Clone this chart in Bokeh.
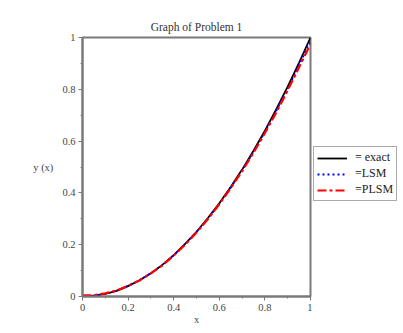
from bokeh.plotting import figure
from bokeh.layouts import row
from bokeh.models import Range1d, FixedTicker, Legend, LegendItem
from bokeh.embed import file_html
from bokeh.resources import INLINE

title_text = "Graph of Problem 1"
x_vals = [0, 0.05, 0.1, 0.15, 0.2, 0.25, 0.3, 0.35, 0.4, 0.45, 0.5,
          0.55, 0.6, 0.65, 0.7, 0.75, 0.8, 0.85, 0.9, 0.95, 1.0]
exact = [0.002, 0.003, 0.01, 0.022, 0.04, 0.063, 0.09, 0.122, 0.16, 0.203, 0.25,
         0.303, 0.36, 0.423, 0.49, 0.563, 0.64, 0.723, 0.81, 0.903, 1.0]
lsm = [0.002, 0.004, 0.011, 0.023, 0.041, 0.063, 0.09, 0.121, 0.159, 0.202, 0.249,
       0.301, 0.358, 0.42, 0.486, 0.558, 0.635, 0.717, 0.803, 0.894, 0.987]
plsm = [0.004, 0.005, 0.012, 0.023, 0.041, 0.062, 0.089, 0.12, 0.158, 0.2, 0.247,
        0.299, 0.356, 0.418, 0.484, 0.555, 0.631, 0.711, 0.796, 0.885, 0.975]
major_ticks = [0, 0.2, 0.4, 0.6, 0.8, 1]
minor_ticks = [0.1, 0.3, 0.5, 0.7, 0.9]
tick_labels = ["0", "0.2", "0.4", "0.6", "0.8", "1"]
legend_labels = ["= exact", "=LSM", "=PLSM"]

FONT = "Liberation Serif"
GRAY = "#7a7a7a"
TXT = "#444444"

STYLES = [dict(line_color="black", line_width=1.8),
          dict(line_color="blue", line_width=1.8, line_dash="2 3"),
          dict(line_color="red", line_width=2.2, line_dash="9 3 3 3")]

p = figure(width=312, height=333, output_backend="svg", toolbar_location=None,
           x_range=Range1d(0, 1), y_range=Range1d(0, 1),
           min_border_left=82, min_border_right=2, min_border_top=37, min_border_bottom=37,
           title=title_text)
p.title.text_font = FONT
p.title.text_font_size = "11.5px"
p.title.text_font_style = "normal"
p.title.text_color = "#333333"
p.title.align = "center"
p.title.standoff = 9

p.grid.visible = False
p.outline_line_color = GRAY
p.outline_line_width = 2
p.background_fill_color = "white"
p.border_fill_color = "white"

labels_map = {t: l for t, l in zip(major_ticks, tick_labels)}
for ax in (p.xaxis[0], p.yaxis[0]):
    ax.ticker = FixedTicker(ticks=major_ticks, minor_ticks=minor_ticks)
    ax.major_label_overrides = labels_map
    ax.axis_line_color = GRAY
    ax.axis_line_width = 2
    ax.major_tick_line_color = GRAY
    ax.minor_tick_line_color = GRAY
    ax.major_tick_in = 0
    ax.major_tick_out = 4
    ax.minor_tick_in = 0
    ax.minor_tick_out = 2
    ax.major_label_text_font = FONT
    ax.major_label_text_font_size = "10.5px"
    ax.major_label_text_color = TXT
    ax.axis_label_text_font = FONT
    ax.axis_label_text_font_size = "10.5px"
    ax.axis_label_text_font_style = "normal"
    ax.axis_label_text_color = TXT

p.xaxis.axis_label = "x"
p.xaxis.major_label_standoff = 3
p.xaxis.axis_label_standoff = 0
p.yaxis.axis_label = "y (x)"
p.yaxis.axis_label_orientation = "horizontal"
p.yaxis.major_label_standoff = 3
p.yaxis.axis_label_standoff = 6

for ys, st in zip([exact, lsm, plsm], STYLES):
    p.line(x_vals, ys, **st)

# legend panel
p2 = figure(width=91, height=333, output_backend="svg", toolbar_location=None,
            x_range=Range1d(0, 1), y_range=Range1d(0, 1),
            x_axis_type=None, y_axis_type=None,
            min_border_left=0, min_border_right=0, min_border_top=0, min_border_bottom=0)
p2.grid.visible = False
p2.outline_line_color = None
p2.background_fill_color = "white"
p2.border_fill_color = "white"
dummy = [p2.line([-10, -9], [-10, -9], **st) for st in STYLES]

legend = Legend(items=[LegendItem(label=lab, renderers=[r]) for lab, r in zip(legend_labels, dummy)],
                location=(1, 95))
legend.label_text_font = FONT
legend.label_text_font_size = "12px"
legend.label_text_color = "#222222"
legend.label_height = 12
legend.glyph_height = 12
legend.glyph_width = 30
legend.spacing = 1
legend.padding = 3
legend.margin = 0
legend.label_standoff = 8
legend.border_line_color = "#555555"
legend.border_line_width = 1.5
legend.background_fill_alpha = 1
p2.add_layout(legend, "center")

layout = row(p, p2)
open("out.html", "w").write(file_html(layout, INLINE))
